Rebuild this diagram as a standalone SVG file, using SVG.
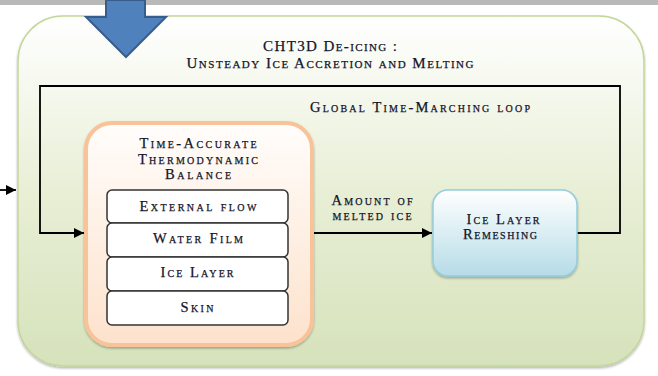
<svg xmlns="http://www.w3.org/2000/svg" width="658" height="376" viewBox="0 0 658 376">
<defs>
<linearGradient id="gGreen" x1="0" y1="0" x2="0" y2="1">
<stop offset="0" stop-color="#ffffff"/>
<stop offset="0.5" stop-color="#e8efd6"/>
<stop offset="1" stop-color="#d6e2bb"/>
</linearGradient>
<linearGradient id="gOrange" x1="0" y1="0" x2="0" y2="1">
<stop offset="0" stop-color="#fffdfb"/>
<stop offset="1" stop-color="#fde2cc"/>
</linearGradient>
<linearGradient id="gBlue" x1="0" y1="0" x2="0" y2="1">
<stop offset="0" stop-color="#ffffff"/>
<stop offset="1" stop-color="#b6dce7"/>
</linearGradient>
<marker id="ah" viewBox="0 0 10 10" refX="10" refY="5" markerWidth="10" markerHeight="10" markerUnits="userSpaceOnUse" orient="auto">
<path d="M0,0 L10,5 L0,10 Z" fill="#000"/>
</marker>
<filter id="sh" x="-10%" y="-10%" width="120%" height="120%">
<feDropShadow dx="0" dy="1.5" stdDeviation="1.2" flood-color="#000" flood-opacity="0.3"/>
</filter>
</defs>
<style>
.t{font-family:"Liberation Serif","DejaVu Serif",serif;font-variant:small-caps;font-size:14.5px;fill:#14142a;text-anchor:middle;stroke:#14142a;stroke-width:0.25}
.big{font-size:15px}
.layer{fill:#fff;stroke:#333;stroke-width:1.5}
.conn{fill:none;stroke:#000;stroke-width:1.8}
</style>
<rect x="0" y="0" width="658" height="5" fill="#b9b9b9"/>
<g id="container">
<rect x="18" y="16" width="626" height="350" rx="45" ry="45" fill="url(#gGreen)" stroke="#c3d69b" stroke-width="1.5" filter="url(#sh)"/>
<text class="t big" x="330" y="51" textLength="134" lengthAdjust="spacing">CHT3D De-icing :</text>
<text class="t big" x="330" y="68" textLength="287" lengthAdjust="spacing">Unsteady Ice Accretion and Melting</text>
</g>
<g id="input-arrow">
<path d="M106,0 H145 V17 H166 L126,57 L86,17 H106 Z" fill="#4f81bd" stroke="#385d8a" stroke-width="2"/>
</g>
<g id="connectors">
<path class="conn" d="M0,190 H16" marker-end="url(#ah)"/>
<path class="conn" d="M576,233 H620 V86 H40 V233 H84" marker-end="url(#ah)"/>
<path class="conn" d="M312,233 H432" marker-end="url(#ah)"/>
<text class="t" x="420" y="112" textLength="220" lengthAdjust="spacing">Global Time-Marching loop</text>
<text class="t" x="372" y="205" textLength="81" lengthAdjust="spacing">Amount of</text>
<text class="t" x="372" y="220" textLength="79" lengthAdjust="spacing">melted ice</text>
</g>
<g id="balance">
<rect x="86" y="123" width="226" height="222" rx="26" ry="26" fill="url(#gOrange)" stroke="#f9c39a" stroke-width="4" filter="url(#sh)"/>
<text class="t" x="198" y="148" textLength="117" lengthAdjust="spacing">Time-Accurate</text>
<text class="t" x="198" y="164" textLength="120" lengthAdjust="spacing">Thermodynamic</text>
<text class="t" x="198" y="179" textLength="66" lengthAdjust="spacing">Balance</text>
</g>
<g id="external-flow">
<rect class="layer" x="107" y="190" width="181" height="33" rx="5"/>
<text class="t" x="198" y="211" textLength="117" lengthAdjust="spacing">External flow</text>
</g>
<g id="water-film">
<rect class="layer" x="107" y="223" width="181" height="34" rx="5"/>
<text class="t" x="198" y="243" textLength="90" lengthAdjust="spacing">Water Film</text>
</g>
<g id="ice-layer">
<rect class="layer" x="107" y="257" width="181" height="34" rx="5"/>
<text class="t" x="197" y="277" textLength="73" lengthAdjust="spacing">Ice Layer</text>
</g>
<g id="skin">
<rect class="layer" x="107" y="291" width="181" height="34" rx="5"/>
<text class="t" x="197" y="312" textLength="33" lengthAdjust="spacing">Skin</text>
</g>
<g id="remeshing">
<rect x="433" y="190" width="144" height="86" rx="15" ry="15" fill="url(#gBlue)" stroke="#93cddd" stroke-width="1.5" filter="url(#sh)"/>
<text class="t" x="503" y="224" textLength="73" lengthAdjust="spacing">Ice Layer</text>
<text class="t" x="500" y="239" textLength="74" lengthAdjust="spacing">Remeshing</text>
</g>
</svg>
